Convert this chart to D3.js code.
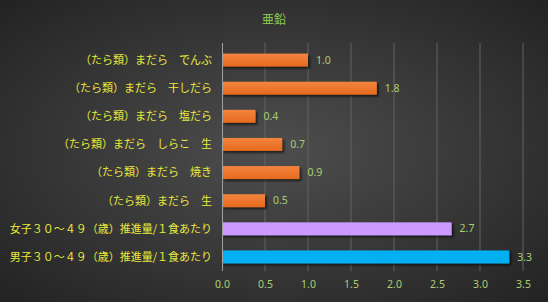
<!DOCTYPE html>
<html>
<head>
<meta charset="utf-8">
<script src="https://cdn.jsdelivr.net/npm/d3@7"></script>
<style>
    body { margin: 0; background: #262626; }
    .tick text { font-family: "Noto Sans", sans-serif; }
</style>
</head>
<body>
<div id="chart"></div>
<script>
    // data
    var categories = [
        "（たら類）まだら　でんぶ",
        "（たら類）まだら　干しだら",
        "（たら類）まだら　塩だら",
        "（たら類）まだら　しらこ　生",
        "（たら類）まだら　焼き",
        "（たら類）まだら　生",
        "女子３０～４９（歳）推進量/１食あたり",
        "男子３０～４９（歳）推進量/１食あたり"
    ];
    var values = [1.0, 1.8, 0.39, 0.7, 0.9, 0.5, 2.67, 3.34];
    var labels = ["1.0", "1.8", "0.4", "0.7", "0.9", "0.5", "2.7", "3.3"];
    var colors = ["#f07a30", "#f07a30", "#f07a30", "#f07a30", "#f07a30", "#f07a30", "#cc99ff", "#00b0f0"];
    var ticks = [0, 0.5, 1.0, 1.5, 2.0, 2.5, 3.0, 3.5];

    var width = 548, height = 302;
    var margin = { top: 46, right: 25, bottom: 31, left: 222 };

    var svg = d3.select("#chart").append("svg")
        .attr("width", width)
        .attr("height", height);

    var defs = svg.append("defs");
    var bg = defs.append("radialGradient").attr("id", "bg")
        .attr("cx", "50%").attr("cy", "50%").attr("r", "75%");
    bg.append("stop").attr("offset", "0%").attr("stop-color", "#4e4e4e");
    bg.append("stop").attr("offset", "100%").attr("stop-color", "#202020");

    var og = defs.append("linearGradient").attr("id", "orange")
        .attr("x1", 0).attr("y1", 0).attr("x2", 0).attr("y2", 1);
    og.append("stop").attr("offset", "0%").attr("stop-color", "#f5843f");
    og.append("stop").attr("offset", "100%").attr("stop-color", "#e46a1e");

    var sh = defs.append("filter").attr("id", "shadow")
        .attr("x", "-5%").attr("y", "-20%").attr("width", "115%").attr("height", "160%");
    sh.append("feDropShadow").attr("dx", 2).attr("dy", 2).attr("stdDeviation", 1.2)
        .attr("flood-color", "#000").attr("flood-opacity", 0.6);

    svg.append("rect").attr("width", width).attr("height", height).attr("fill", "url(#bg)");

    svg.append("text")
        .attr("x", 274).attr("y", 24)
        .attr("text-anchor", "middle")
        .attr("fill", "#92d050")
        .style("font", "12px 'Noto Sans CJK JP'")
        .text("亜鉛");

    var x = d3.scaleLinear().domain([0, 3.5]).range([margin.left, width - margin.right]);
    var y = d3.scaleBand().domain(categories)
        .range([margin.top, height - margin.bottom])
        .paddingInner(0.54).paddingOuter(0.27);

    // grid
    svg.append("g").selectAll("line").data(ticks.slice(1)).join("line")
        .attr("x1", d => x(d)).attr("x2", d => x(d))
        .attr("y1", 43).attr("y2", height - margin.bottom)
        .attr("stroke", "#636363").attr("stroke-width", 1);

    // x axis
    var xAxis = svg.append("g")
        .attr("transform", "translate(0," + (height - margin.bottom) + ")")
        .call(d3.axisBottom(x).tickValues(ticks).tickFormat(d3.format(".1f")).tickSize(0).tickPadding(10));
    xAxis.select(".domain").remove();
    xAxis.selectAll("text").attr("fill", "#a9cf72").style("font-size", "10.5px");

    // bars
    svg.append("g").selectAll("rect").data(values).join("rect")
        .attr("x", x(0))
        .attr("y", (d, i) => y(categories[i]))
        .attr("width", d => x(d) - x(0))
        .attr("height", y.bandwidth())
        .attr("fill", (d, i) => i < 6 ? "url(#orange)" : colors[i])
        .attr("filter", "url(#shadow)");

    // axis line at zero
    svg.append("line")
        .attr("x1", x(0) + 0.5).attr("x2", x(0) + 0.5)
        .attr("y1", 43).attr("y2", height - margin.bottom)
        .attr("stroke", "#a0a0a0");

    // category labels
    svg.append("g").selectAll("text").data(categories).join("text")
        .attr("x", x(0) - 10)
        .attr("y", d => y(d) + y.bandwidth() / 2)
        .attr("dy", "0.35em")
        .attr("text-anchor", "end")
        .attr("fill", "#eaea3c")
        .style("font", "11px 'Noto Sans CJK JP'")
        .text(d => d);

    // value labels
    svg.append("g").selectAll("text").data(values).join("text")
        .attr("x", d => x(d) + 8)
        .attr("y", (d, i) => y(categories[i]) + y.bandwidth() / 2)
        .attr("dy", "0.35em")
        .attr("fill", "#a9cf72")
        .style("font", "10.5px 'Noto Sans'")
        .text((d, i) => labels[i]);
</script>
</body>
</html>
